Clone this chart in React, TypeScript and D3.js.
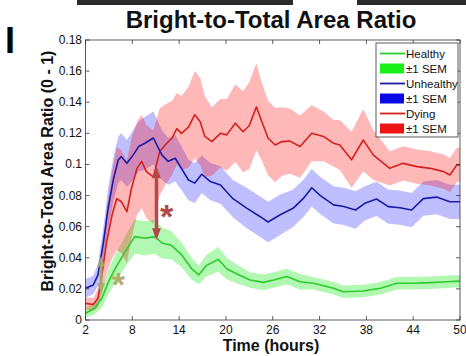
import * as d3 from "d3";

const W = 466;
const H = 356;
const FONT = "'Liberation Sans', Arial, Helvetica, sans-serif";

// axis ticks
const xTicks = [2, 8, 14, 20, 26, 32, 38, 44, 50];
const yTicks = [0, 0.02, 0.04, 0.06, 0.08, 0.1, 0.12, 0.14, 0.16, 0.18];

// Healthy
const healthyT = [2, 3.2, 4.1, 4.9, 5.8, 7.1, 8.3, 9.6, 10.9, 11.8, 13, 14.3, 15.6, 16.5, 17.5, 19, 20.1, 21.4, 23.1, 24.8, 26.1, 27.8, 29.5, 31.2, 33.8, 35, 37.6, 39.8, 41.9, 44, 46.2, 48.3, 50];
const healthyMean = [0.0043, 0.0077, 0.014, 0.024, 0.033, 0.044, 0.0536, 0.0525, 0.0536, 0.0495, 0.048, 0.042, 0.033, 0.029, 0.035, 0.039, 0.033, 0.0296, 0.0257, 0.0242, 0.0257, 0.0279, 0.0246, 0.0236, 0.0204, 0.0182, 0.0186, 0.0204, 0.0236, 0.0236, 0.024, 0.0246, 0.025];
const healthySem = [0.003, 0.004, 0.006, 0.008, 0.009, 0.01, 0.011, 0.011, 0.011, 0.01, 0.009, 0.008, 0.007, 0.006, 0.007, 0.008, 0.007, 0.006, 0.005, 0.005, 0.005, 0.005, 0.005, 0.004, 0.004, 0.004, 0.004, 0.004, 0.004, 0.004, 0.004, 0.004, 0.004];

// Unhealthy
const unhealthyT = [2, 3, 3.6, 4.3, 4.9, 5.6, 6.2, 6.6, 7.3, 8.1, 8.8, 9.6, 10.7, 11.8, 12.6, 13.5, 14.3, 15.2, 16, 16.9, 18, 19.3, 20.9, 22.7, 24.4, 25.4, 26.9, 28.6, 29.9, 31, 32.1, 33.8, 35.1, 36.6, 37.8, 39.3, 40.8, 42.3, 43.8, 45.3, 47, 48.7, 50];
const unhealthyMean = [0.0204, 0.0225, 0.029, 0.05, 0.072, 0.091, 0.103, 0.105, 0.1007, 0.106, 0.1115, 0.1136, 0.117, 0.106, 0.102, 0.104, 0.0975, 0.09, 0.088, 0.0937, 0.089, 0.0868, 0.078, 0.0718, 0.0664, 0.063, 0.0675, 0.0718, 0.078, 0.085, 0.08, 0.074, 0.073, 0.0707, 0.075, 0.0778, 0.0729, 0.0722, 0.0707, 0.078, 0.079, 0.076, 0.076];
const unhealthySem = [0.006, 0.006, 0.007, 0.01, 0.013, 0.014, 0.015, 0.015, 0.015, 0.016, 0.016, 0.017, 0.017, 0.016, 0.015, 0.015, 0.014, 0.013, 0.013, 0.012, 0.012, 0.012, 0.012, 0.013, 0.013, 0.013, 0.013, 0.012, 0.012, 0.012, 0.012, 0.012, 0.012, 0.012, 0.011, 0.011, 0.011, 0.011, 0.011, 0.011, 0.011, 0.011, 0.011];

// Dying
const dyingT = [2, 3, 3.6, 4.1, 4.7, 5.4, 6, 6.6, 7.3, 7.9, 8.6, 9.2, 9.8, 10.7, 11.5, 12.2, 13.1, 13.7, 14.3, 15.2, 16, 16.7, 17.3, 18.2, 19.3, 20.1, 21.2, 22.2, 23, 23.9, 24.6, 25.4, 26.3, 27.2, 28.2, 29.5, 31, 32.5, 33.8, 34.6, 36.1, 37.6, 38.9, 41, 42.7, 44.5, 46.2, 47.9, 48.7, 49.6, 50];
const dyingMean = [0.0107, 0.01, 0.014, 0.029, 0.05, 0.0675, 0.078, 0.076, 0.0696, 0.0847, 0.0975, 0.102, 0.0954, 0.092, 0.108, 0.1125, 0.117, 0.123, 0.12, 0.124, 0.132, 0.1275, 0.118, 0.1147, 0.12, 0.119, 0.1265, 0.121, 0.125, 0.137, 0.1275, 0.117, 0.1125, 0.1147, 0.115, 0.1115, 0.12, 0.118, 0.1136, 0.1125, 0.103, 0.1157, 0.106, 0.0975, 0.1007, 0.0986, 0.0975, 0.0954, 0.0932, 0.0997, 0.0997];
const dyingSem = [0.004, 0.004, 0.006, 0.012, 0.02, 0.028, 0.033, 0.033, 0.033, 0.032, 0.03, 0.03, 0.03, 0.03, 0.028, 0.026, 0.024, 0.023, 0.024, 0.026, 0.028, 0.028, 0.026, 0.022, 0.022, 0.023, 0.025, 0.026, 0.028, 0.028, 0.025, 0.024, 0.024, 0.022, 0.021, 0.02, 0.018, 0.016, 0.015, 0.016, 0.018, 0.02, 0.016, 0.011, 0.011, 0.011, 0.011, 0.011, 0.011, 0.011, 0.011];

const legendLabels = ["Healthy", "±1 SEM", "Unhealthy", "±1 SEM", "Dying", "±1 SEM"];

// significance marks: [time, top, bottom]
const dyingArrow = [11.1, 0.0986, 0.0514];
const healthyArrow = [4.0, 0.041, 0.017];
const dyingStar = [12.4, 0.0714];
const healthyStar = [6.2, 0.0277];

const series = [
	{ name: "Healthy", t: healthyT, mean: healthyMean, sem: healthySem, line: "#2bcc2b", band: "#00e600", bandOp: 0.3, patch: "#19f019" },
	{ name: "Unhealthy", t: unhealthyT, mean: unhealthyMean, sem: unhealthySem, line: "#1a1aa6", band: "#0000ff", bandOp: 0.25, patch: "#0a0ae6" },
	{ name: "Dying", t: dyingT, mean: dyingMean, sem: dyingSem, line: "#d42020", band: "#ff0000", bandOp: 0.28, patch: "#ee1414" },
];

const M = { left: 85.5, right: 460, top: 40, bottom: 320 };

function DoubleArrow({ x, y1, y2, color, w, head, op }: { x: number; y1: number; y2: number; color: string; w: number; head: number; op: number }) {
	const hh = head * 1.3;
	return (
		<g fill={color} stroke={color} opacity={op}>
			<line x1={x} x2={x} y1={y1 + hh - 1} y2={y2 - hh + 1} strokeWidth={w} />
			<path d={`M${x},${y1} L${x - head / 2},${y1 + hh} L${x + head / 2},${y1 + hh} Z`} stroke="none" />
			<path d={`M${x},${y2} L${x - head / 2},${y2 - hh} L${x + head / 2},${y2 - hh} Z`} stroke="none" />
		</g>
	);
}

export default function App() {
	const x = d3.scaleLinear().domain([2, 50]).range([M.left, M.right]);
	const y = d3.scaleLinear().domain([0, 0.18]).range([M.bottom, M.top]);

	const fmt = (v: number) => String(+v.toFixed(2));

	const bands = series.map((s) => {
		const area = d3
			.area<number>()
			.x((_, i) => x(s.t[i]))
			.y0((d, i) => y(d - s.sem[i]))
			.y1((d, i) => y(d + s.sem[i]));
		return { s, d: area(s.mean) ?? "" };
	});
	const lines = series.map((s) => {
		const line = d3
			.line<number>()
			.x((_, i) => x(s.t[i]))
			.y((d) => y(d));
		return { s, d: line(s.mean) ?? "" };
	});

	const legX = 376;
	const legY = 43;
	const rowH = 15;

	return (
		<svg width={W} height={H} style={{ position: "absolute", left: 0, top: 0, background: "#fff" }} fontFamily={FONT}>
			{/* neighbouring panels cut at the top */}
			<rect x={77} y={0} width={216} height={5} fill="#2b2b2b" />
			<rect x={357} y={0} width={109} height={5} fill="#2b2b2b" />

			<text x={5} y={53} fontSize={36} fontWeight="bold" fill="#000">I</text>
			<text x={271} y={28} fontSize={24} fontWeight="bold" textAnchor="middle" fill="#111">
				Bright-to-Total Area Ratio
			</text>

			{/* bands */}
			{bands.map(({ s, d }) => (
				<path key={s.name + "b"} d={d} fill={s.band} fillOpacity={s.bandOp} stroke="none" />
			))}
			{/* mean lines */}
			{[...lines].reverse().map(({ s, d }) => (
				<path key={s.name + "l"} d={d} fill="none" stroke={s.line} strokeWidth={1.6} strokeLinejoin="round" />
			))}

			{/* axes box */}
			<rect x={M.left} y={M.top} width={M.right - M.left} height={M.bottom - M.top} fill="none" stroke="#333" strokeWidth={0.8} />
			{xTicks.map((t) => (
				<g key={"x" + t}>
					<line x1={x(t)} x2={x(t)} y1={M.bottom} y2={M.bottom - 4} stroke="#333" strokeWidth={0.8} />
					<line x1={x(t)} x2={x(t)} y1={M.top} y2={M.top + 4} stroke="#333" strokeWidth={0.8} />
					<text x={x(t)} y={334} fontSize={12} textAnchor="middle" fill="#111">
						{t}
					</text>
				</g>
			))}
			{yTicks.map((v) => (
				<g key={"y" + v}>
					<line x1={M.left} x2={M.left + 4} y1={y(v)} y2={y(v)} stroke="#333" strokeWidth={0.8} />
					<line x1={M.right} x2={M.right - 4} y1={y(v)} y2={y(v)} stroke="#333" strokeWidth={0.8} />
					<text x={82} y={y(v) + 4} fontSize={12} textAnchor="end" fill="#111">
						{fmt(v)}
					</text>
				</g>
			))}

			<text x={271} y={351} fontSize={16} fontWeight="bold" textAnchor="middle" fill="#111">
				Time (hours)
			</text>
			<text transform="translate(53,171) rotate(-90)" fontSize={16} fontWeight="bold" textAnchor="middle" fill="#111">
				Bright-to-Total Area Ratio (0 - 1)
			</text>

			{/* significance annotations */}
			<DoubleArrow x={x(dyingArrow[0])} y1={y(dyingArrow[1])} y2={y(dyingArrow[2])} color="#b34848" w={3.5} head={9} op={1} />
			<DoubleArrow x={x(healthyArrow[0])} y1={y(healthyArrow[1])} y2={y(healthyArrow[2])} color="#a3ad6a" w={3} head={8} op={0.9} />
			<text x={x(dyingStar[0])} y={y(dyingStar[1]) + 19} fontSize={34} fontWeight="bold" textAnchor="middle" fill="#b34848">
				*
			</text>
			<text x={x(healthyStar[0])} y={y(healthyStar[1]) + 19} fontSize={34} fontWeight="bold" textAnchor="middle" fill="#b5ab6a">
				*
			</text>

			{/* legend */}
			<rect x={legX} y={legY} width={82} height={94} fill="#fff" stroke="#333" strokeWidth={0.8} />
			{legendLabels.map((lab, i) => {
				const s = series[Math.floor(i / 2)];
				const cy = legY + 10.5 + i * rowH;
				return (
					<g key={"leg" + i}>
						{i % 2 === 0 ? (
							<line x1={380} x2={405} y1={cy} y2={cy} stroke={s.line} strokeWidth={1.8} />
						) : (
							<rect x={380} y={cy - 5} width={24} height={10} fill={s.patch} />
						)}
						<text x={406} y={cy + 4} fontSize={11.5} fill="#111">
							{lab}
						</text>
					</g>
				);
			})}
		</svg>
	);
}
